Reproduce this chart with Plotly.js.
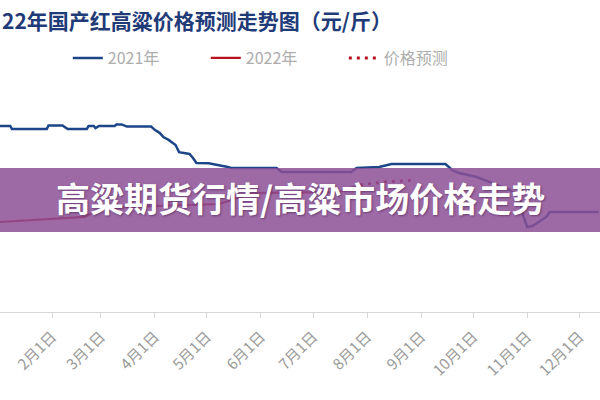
<!DOCTYPE html>
<html>
<head>
<meta charset="utf-8">
<script src="https://cdn.plot.ly/plotly-3.0.1.min.js"></script>
<style>
	html, body { margin: 0; padding: 0; background: #ffffff; }
	#chart { width: 600px; height: 400px; }
</style>
</head>
<body>
<div id="chart"></div>
<script>
// both years are drawn on one Jan-Dec axis, so dates are kept as month-day
const base_year = "2021-";

var days_2021 = [
	"01-02", "01-08", "01-09", "01-29", "01-30", "02-07", "02-10", "02-21", "02-22", "02-25",
	"02-26", "02-28", "03-09", "03-10", "03-13", "03-16", "03-30", "04-01", "04-04", "04-06",
	"04-09", "04-13", "04-15", "04-21", "04-23", "04-25", "05-02", "05-08", "05-13", "05-15",
	"06-10", "06-13", "07-23", "07-26", "08-08", "08-15", "09-15", "09-17", "09-19", "09-23",
	"10-03", "10-12", "10-22", "10-28", "10-29", "11-01", "11-04", "11-12", "11-14", "12-12"
];
var price_2021 = [
	1.717, 1.717, 1.708, 1.708, 1.718, 1.718, 1.708, 1.708, 1.717, 1.717,
	1.711, 1.717, 1.717, 1.721, 1.721, 1.715, 1.715, 1.706, 1.697, 1.686,
	1.678, 1.664, 1.644, 1.639, 1.628, 1.614, 1.613, 1.608, 1.603, 1.600,
	1.600, 1.589, 1.589, 1.600, 1.603, 1.611, 1.611, 1.603, 1.594, 1.586,
	1.575, 1.558, 1.539, 1.519, 1.478, 1.436, 1.439, 1.464, 1.478, 1.478
];

var days_2022 = [
	"01-02", "01-14", "02-02", "02-20", "02-24", "03-02", "03-16", "05-08", "05-15", "05-25",
	"06-03", "07-16", "07-22", "07-28"
];
var price_2022 = [
	1.450, 1.453, 1.458, 1.464, 1.475, 1.486, 1.492, 1.500, 1.511, 1.528,
	1.531, 1.533, 1.544, 1.553
];

var days_forecast = ["07-28", "08-11", "08-29"];
var price_forecast = [1.553, 1.561, 1.567];

var tick_days = ["02-01", "03-01", "04-01", "05-01", "06-01", "07-01", "08-01", "09-01", "10-01", "11-01", "12-01"];
var tick_labels = ["2月1日", "3月1日", "4月1日", "5月1日", "6月1日", "7月1日", "8月1日", "9月1日", "10月1日", "11月1日", "12月1日"];

var series_names = ["2021年", "2022年", "价格预测"];
// the reference crop starts inside the title, so only this part is shown
var chart_title = "22年国产红高粱价格预测走势图（元/斤）";
var banner_text = "高粱期货行情/高粱市场价格走势";

const cjk_font = "Noto Sans CJK SC, Noto Sans, sans-serif";

function to_dates(days)
{
	return days.map(d => base_year + d);
}

function make_chart()
{
	var line_2021 =
	{
		type: "scatter",
		mode: "lines",
		name: series_names[0],
		x: to_dates(days_2021),
		y: price_2021,
		line: {color: "#1d4689", width: 2.5}
	};

	var line_2022 =
	{
		type: "scatter",
		mode: "lines",
		name: series_names[1],
		x: to_dates(days_2022),
		y: price_2022,
		line: {color: "#b8101f", width: 2.2}
	};

	var line_forecast =
	{
		type: "scatter",
		mode: "lines",
		name: series_names[2],
		x: to_dates(days_forecast),
		y: price_forecast,
		line: {color: "#b8101f", width: 3, dash: "3px,5px"}
	};

	var layout =
	{
		width: 600,
		height: 400,
		margin: {l: 0, r: 0, t: 60, b: 88},
		paper_bgcolor: "#ffffff",
		plot_bgcolor: "#ffffff",
		font: {family: cjk_font, color: "#999999"},
		showlegend: true,
		legend: {
			orientation: "h",
			x: 0.113,
			xanchor: "left",
			y: 1.008,
			yanchor: "middle",
			font: {size: 16, color: "#adadad", family: cjk_font},
			entrywidth: 93,
			entrywidthmode: "pixels",
			bgcolor: "rgba(0,0,0,0)"
		},
		xaxis: {
			type: "date",
			range: ["2021-01-02 03:00", "2021-12-12 20:00"],
			tickvals: to_dates(tick_days),
			ticktext: tick_labels,
			tickangle: -45,
			tickfont: {size: 15, color: "#9a9a9a", family: cjk_font},
			ticklabelstandoff: 4,
			ticks: "outside",
			ticklen: 5,
			tickcolor: "#d6d6d6",
			showline: true,
			linecolor: "#d6d6d6",
			linewidth: 1,
			showgrid: false,
			zeroline: false,
			fixedrange: true
		},
		yaxis: {
			range: [1.2, 1.9],
			visible: false,
			showgrid: false,
			zeroline: false,
			fixedrange: true
		},
		shapes: [{
			type: "rect",
			layer: "above",
			xref: "paper",
			yref: "paper",
			x0: -0.01,
			x1: 1.01,
			y0: 0.317,
			y1: 0.571,
			fillcolor: "rgba(140,80,150,0.85)",
			line: {width: 0}
		}],
		annotations: [
			{
				text: chart_title,
				xref: "paper",
				yref: "paper",
				x: 0,
				y: 1.159,
				xanchor: "left",
				yanchor: "middle",
				showarrow: false,
				font: {size: 21, color: "#1f3b78", family: cjk_font, weight: "bold"}
			},
			{
				text: banner_text,
				xref: "paper",
				yref: "paper",
				x: 0.5,
				y: 0.456,
				xanchor: "center",
				yanchor: "middle",
				showarrow: false,
				font: {size: 34, color: "#ffffff", family: cjk_font, weight: "bold", shadow: "1px 1px 2px rgba(60,20,70,0.5)"}
			}
		]
	};

	Plotly.newPlot("chart", [line_2021, line_2022, line_forecast], layout, {displayModeBar: false, staticPlot: true});
}

make_chart();
</script>
</body>
</html>
